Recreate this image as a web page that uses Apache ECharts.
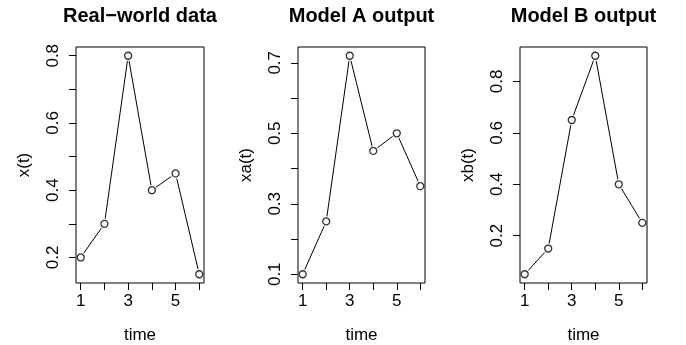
<!DOCTYPE html>
<html>
<head>
<meta charset="utf-8">
<script src="https://cdn.jsdelivr.net/npm/echarts@6/dist/echarts.min.js"></script>
<style>
  html, body { margin: 0; padding: 0; background: #fff; }
  #chart { width: 686px; height: 345px; }
</style>
</head>
<body>
<div id="chart"></div>
<script>
// three small time-series panels, R base graphics look
const time = [1, 2, 3, 4, 5, 6];
const realWorld = [0.2, 0.3, 0.8, 0.4, 0.45, 0.15];
const modelA = [0.1, 0.25, 0.72, 0.45, 0.5, 0.35];
const modelB = [0.05, 0.15, 0.65, 0.9, 0.4, 0.25];

const timeTicks = [1, 2, 3, 4, 5, 6];
const timeLabels = [1, 3, 5];
const realTicks = [0.2, 0.3, 0.4, 0.5, 0.6, 0.7, 0.8];
const realLabels = [0.2, 0.4, 0.6, 0.8];
const aTicks = [0.1, 0.2, 0.3, 0.4, 0.5, 0.6, 0.7];
const aLabels = [0.1, 0.3, 0.5, 0.7];
const bTicks = [0.2, 0.4, 0.6, 0.8];
const bLabels = [0.2, 0.4, 0.6, 0.8];

const titles = ['Real\u2212world data', 'Model A output', 'Model B output'];
const yNames = ['x(t)', 'xa(t)', 'xb(t)'];

const FONT = '"Liberation Sans", Arial, sans-serif';

const panels = [
  { values: realWorld, ticks: realTicks, labels: realLabels, left: 76, width: 128 },
  { values: modelA, ticks: aTicks, labels: aLabels, left: 298, width: 127 },
  { values: modelB, ticks: bTicks, labels: bLabels, left: 520, width: 127 }
];

// R pads the data range by 4% on each side
const padMin = v => v.min - 0.04 * (v.max - v.min);
const padMax = v => v.max + 0.04 * (v.max - v.min);

const chart = echarts.init(document.getElementById('chart'));

const option = {
  animation: false,
  backgroundColor: '#fff',
  textStyle: { fontFamily: FONT },
  title: [],
  grid: [],
  xAxis: [],
  yAxis: [],
  series: []
};

panels.forEach((p, i) => {
  option.title.push({
    text: titles[i],
    left: p.left + p.width / 2,
    textAlign: 'center',
    top: 6,
    padding: 0,
    textStyle: { fontFamily: FONT, fontSize: 20, fontWeight: 'bold', color: '#000' }
  });

  option.grid.push({
    left: p.left,
    top: 47,
    width: p.width,
    height: 236,
    containLabel: false,
    outerBoundsMode: 'none',
    show: true,
    z: 10,
    borderColor: '#000',
    borderWidth: 1,
    backgroundColor: 'transparent'
  });

  option.xAxis.push({
    type: 'value',
    gridIndex: i,
    min: padMin,
    max: padMax,
    name: 'time',
    nameLocation: 'middle',
    nameGap: 44,
    nameTextStyle: { fontFamily: FONT, fontSize: 17, color: '#000' },
    axisLine: { show: false },
    axisTick: { show: true, inside: false, length: 7, customValues: timeTicks, lineStyle: { color: '#000' } },
    axisLabel: { customValues: timeLabels, margin: 10, fontFamily: FONT, fontSize: 17, color: '#000' },
    splitLine: { show: false }
  });

  option.yAxis.push({
    type: 'value',
    gridIndex: i,
    min: padMin,
    max: padMax,
    name: yNames[i],
    nameLocation: 'middle',
    nameGap: 43,
    nameTextStyle: { fontFamily: FONT, fontSize: 17, color: '#000' },
    axisLine: { show: false },
    axisTick: { show: true, inside: false, length: 7, customValues: p.ticks, lineStyle: { color: '#000' } },
    axisLabel: {
      customValues: p.labels,
      rotate: 90,
      margin: 14,
      fontFamily: FONT,
      fontSize: 17,
      color: '#000',
      formatter: v => v.toFixed(1)
    },
    splitLine: { show: false }
  });

  const pts = time.map((t, k) => [t, p.values[k]]);

  option.series.push(
    {
      type: 'line',
      xAxisIndex: i,
      yAxisIndex: i,
      data: pts,
      showSymbol: false,
      symbol: 'none',
      lineStyle: { color: '#000', width: 1 },
      z: 2
    },
    {
      // white halo leaves the small gap R draws around each point
      type: 'scatter',
      xAxisIndex: i,
      yAxisIndex: i,
      data: pts,
      symbol: 'circle',
      symbolSize: 11,
      itemStyle: { color: '#fff', borderWidth: 0 },
      z: 3
    },
    {
      type: 'scatter',
      xAxisIndex: i,
      yAxisIndex: i,
      data: pts,
      symbol: 'circle',
      symbolSize: 7,
      itemStyle: { color: '#fff', borderColor: '#000', borderWidth: 1.3 },
      z: 4
    }
  );
});

chart.setOption(option);
</script>
</body>
</html>
